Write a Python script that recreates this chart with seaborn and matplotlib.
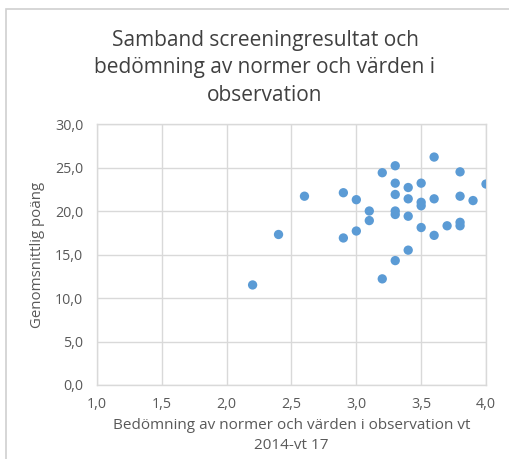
import matplotlib
matplotlib.use("Agg")
import matplotlib.pyplot as plt
import seaborn as sns
import pandas as pd
from matplotlib.patches import Rectangle

# Data
bedomning = [3.6, 3.3, 3.2, 3.8, 3.3, 3.4, 3.5, 4.0, 2.6, 2.9, 3.0, 3.3, 3.4, 3.5,
             3.5, 3.6, 3.8, 3.9, 3.1, 3.3, 3.3, 3.4, 3.1, 3.8, 3.8, 3.7, 3.5, 2.4,
             3.0, 2.9, 3.6, 3.4, 3.3, 3.2, 2.2]
poang = [26.2, 25.2, 24.4, 24.5, 23.2, 22.7, 23.2, 23.1, 21.7, 22.1, 21.3, 21.9, 21.4, 21.0,
         20.6, 21.4, 21.7, 21.2, 20.0, 20.0, 19.6, 19.4, 18.9, 18.7, 18.3, 18.3, 18.1, 17.3,
         17.7, 16.9, 17.2, 15.5, 14.3, 12.2, 11.5]
x_ticks = [1.0, 1.5, 2.0, 2.5, 3.0, 3.5, 4.0]
y_ticks = [0, 5, 10, 15, 20, 25, 30]

title = "Samband screeningresultat och\nbedömning av normer och värden i\nobservation"
xlabel = "Bedömning av normer och värden i observation vt\n2014-vt 17"
ylabel = "Genomsnittlig poäng"

df = pd.DataFrame({"x": bedomning, "y": poang})

sns.set_theme(style="white")
plt.rcParams['font.family'] = ['Open Sans', 'DejaVu Sans']

fig = plt.figure(figsize=(5.10, 4.59), dpi=100)
ax = fig.add_axes([97/510, 1-385/459, (486-97)/510, (385-124)/459])

sns.scatterplot(data=df, x="x", y="y", ax=ax, color="#5b9bd5", s=45,
                edgecolor="none", zorder=3)

ax.set_xlim(1.0, 4.0)
ax.set_ylim(0, 30)
ax.set_xticks(x_ticks)
ax.set_yticks(y_ticks)
ax.set_xticklabels([f"{v:.1f}".replace(".", ",") for v in x_ticks])
ax.set_yticklabels([f"{v:.1f}".replace(".", ",") for v in y_ticks])
ax.grid(True, color="#d9d9d9", linewidth=1.0)
for sp in ax.spines.values():
    sp.set_color("#d9d9d9")
    sp.set_linewidth(1.0)
ax.tick_params(axis="both", length=0, labelsize=10.3, labelcolor="#595959")
ax.tick_params(axis="y", pad=10)
ax.tick_params(axis="x", pad=9)

ax.set_xlabel(xlabel, fontsize=11, color="#595959", labelpad=4, linespacing=1.45)
ax.set_ylabel(ylabel, fontsize=10.8, color="#595959", labelpad=7)

fig.text(265/510, 1-68/459, title, ha="center", va="center", fontsize=15,
         color="#404040", linespacing=1.42)

# outer chart frame
fig.patches.append(Rectangle((6/510, -0.1), 1.2, 1 - 9/459 + 0.1,
                             transform=fig.transFigure, fill=False,
                             edgecolor="#d0d0d0", linewidth=1.2))

fig.savefig("out.png", dpi=100)
